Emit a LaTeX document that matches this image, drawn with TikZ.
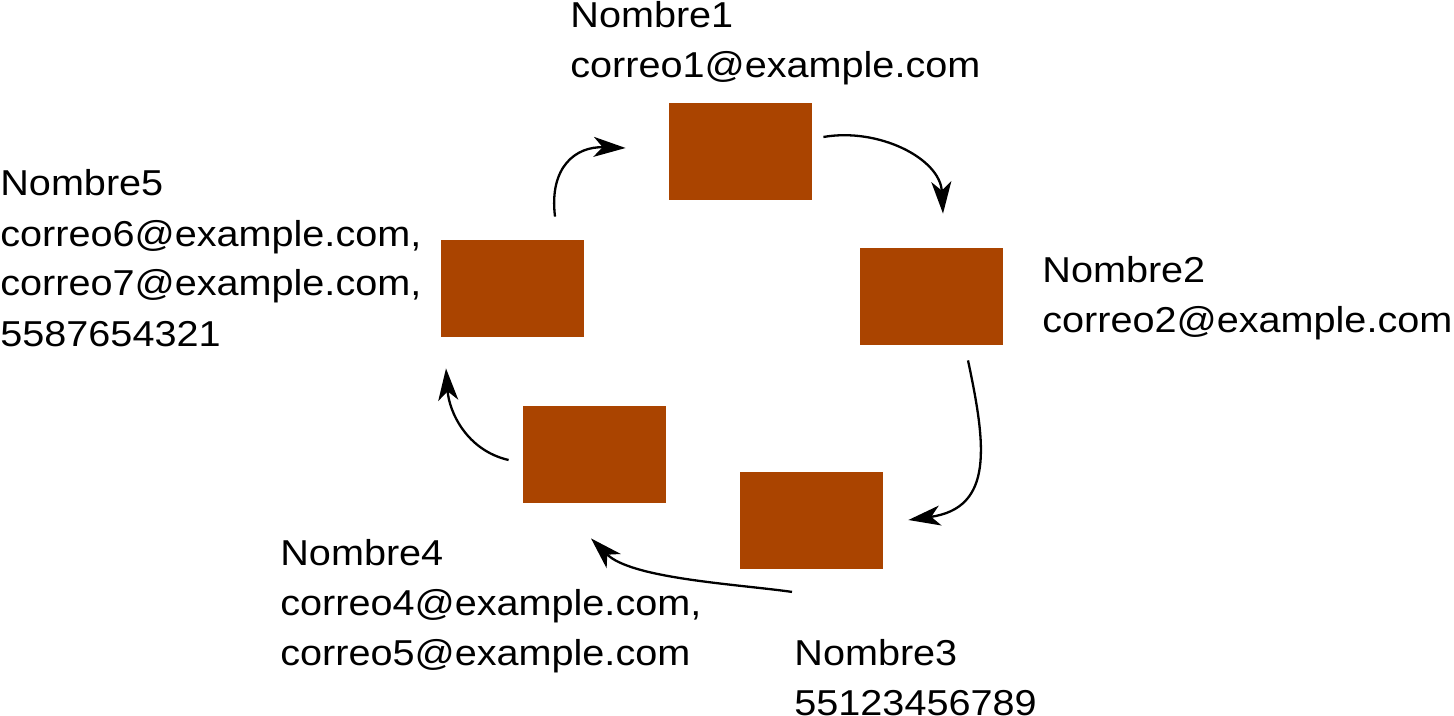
\documentclass[tikz,border=0pt]{standalone}
\usepackage{fontspec}
\setmainfont{Liberation Sans}[FakeStretch=1.1]
\usetikzlibrary{arrows.meta, calc}
\definecolor{rust}{HTML}{AA4400}

\begin{document}
\begin{tikzpicture}[
        x=0.5pt, y=0.5pt,
        box/.style={fill=rust, minimum width=71.5pt, minimum height=48.5pt, inner sep=0pt},
        label_text/.style={anchor=base west, inner sep=0pt, align=left, font=\fontsize{18pt}{25pt}\selectfont},
        link/.style={-{Stealth[length=16pt, width=10pt, inset=4.5pt]}, line width=1.15pt}
    ]
        \useasboundingbox (0, 0) rectangle (1454, -716);

        % boxes
        \node (nombre1_box) at (740.5, -151.5) [box] {};
        \node (nombre2_box) at (931.5, -296.5) [box] {};
        \node (nombre3_box) at (811.5, -520) [box] {};
        \node (nombre4_box) at (594.5, -454.5) [box] {};
        \node (nombre5_box) at (512, -288.5) [box] {};

        % labels (base = last line)
        \node (nombre1) at (570, -78) [label_text] {Nombre1\\correo1@example.com};
        \node (nombre2) at (1042, -333) [label_text] {Nombre2\\correo2@example.com};
        \node (nombre3) at (794, -715) [label_text] {Nombre3\\55123456789};
        \node (nombre4) at (280, -665) [label_text] {Nombre4\\correo4@example.com,\\correo5@example.com};
        \node (nombre5) at (0, -346) [label_text] {Nombre5\\correo6@example.com,\\correo7@example.com,\\5587654321};

        % ring
        \draw[link] ($(nombre1_box.east)+(11, 14.5)$) to[out=10, in=93] ($(nombre2_box.north)+(11.5, 34)$);
        \draw[link] ($(nombre2_box.south)+(36.5, -15)$) to[out=-78, in=8, looseness=1.3] ($(nombre3_box.east)+(25, 0)$);
        \draw[link] ($(nombre3_box.south)+(-19.5, -23)$) to[out=172, in=-45, looseness=0.7] ($(nombre4_box.south)+(-3.5, -35)$);
        \draw[link] ($(nombre4_box.west)+(-14, -5.5)$) to[out=167, in=-86] ($(nombre5_box.south)+(-66, -31)$);
        \draw[link] ($(nombre5_box.north)+(43, 23)$) to[out=97, in=178, looseness=1.3] ($(nombre1_box.west)+(-43, 3.5)$);
    \end{tikzpicture}
\end{document}
